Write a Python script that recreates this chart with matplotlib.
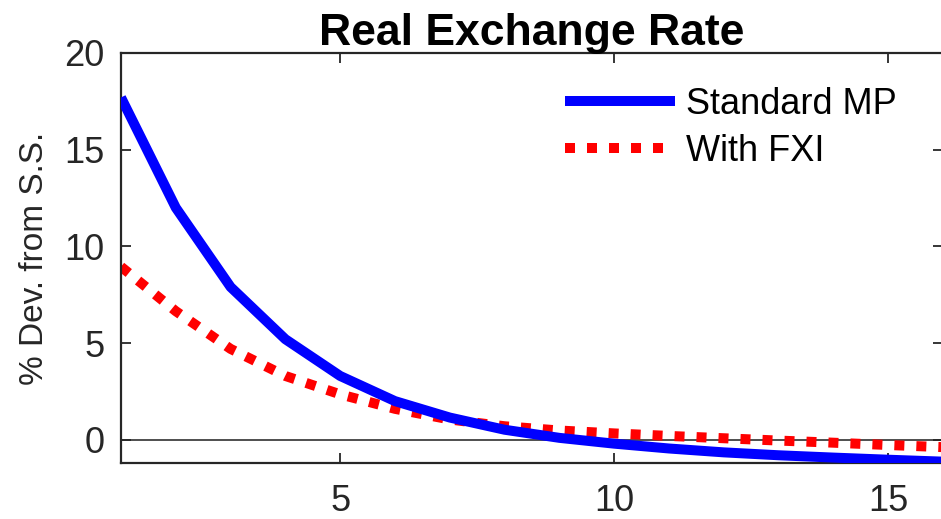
import matplotlib.pyplot as plt

plt.rcParams['font.family'] = ['Liberation Sans', 'DejaVu Sans']

# Impulse responses, quarters 1..16
periods = list(range(1, 17))
standard_mp = [17.7, 12.0, 7.9, 5.2, 3.3, 2.0, 1.15, 0.52, 0.1, -0.2,
               -0.45, -0.65, -0.8, -0.92, -1.03, -1.13]
with_fxi = [8.95, 6.65, 4.7, 3.3, 2.35, 1.6, 1.05, 0.7, 0.48, 0.33,
            0.2, 0.08, -0.04, -0.15, -0.27, -0.38]

fig = plt.figure(figsize=(9.41, 5.19), dpi=100)
ax = fig.add_axes([121 / 941, 1 - 463 / 519, 822 / 941, 410 / 519])

ax.axhline(0, color='#404040', linewidth=1.3, zorder=1)
ax.plot(periods, standard_mp, color='#0000ff', linewidth=7.2,
        solid_capstyle='butt', label='Standard MP', zorder=3)
ax.plot(periods, with_fxi, color='#ff0000', linewidth=7.2,
        linestyle=(0, (1, 1.2)), label='With FXI', zorder=2)

ax.set_xlim(1, 16)
ax.set_ylim(-1.2, 20)
ax.set_xticks([5, 10, 15])
ax.set_yticks([0, 5, 10, 15, 20])

ax.tick_params(direction='in', length=7, width=1.3, labelsize=26,
               colors='#262626', top=True, right=True)
ax.tick_params(axis='x', pad=15)
ax.tick_params(axis='y', pad=12)
for s in ax.spines.values():
    s.set_color('#262626')
    s.set_linewidth(1.6)

ax.set_title('Real Exchange Rate', fontsize=32, fontweight='bold', pad=6)
ax.set_ylabel('% Dev. from S.S.', fontsize=24, color='#262626', labelpad=10)

ax.legend(loc='upper left', bbox_to_anchor=(0.5225, 0.952), frameon=False,
          fontsize=26, handlelength=3.05, handletextpad=0.3,
          labelspacing=0.33, borderaxespad=0)

fig.savefig('out.png', dpi=100)
